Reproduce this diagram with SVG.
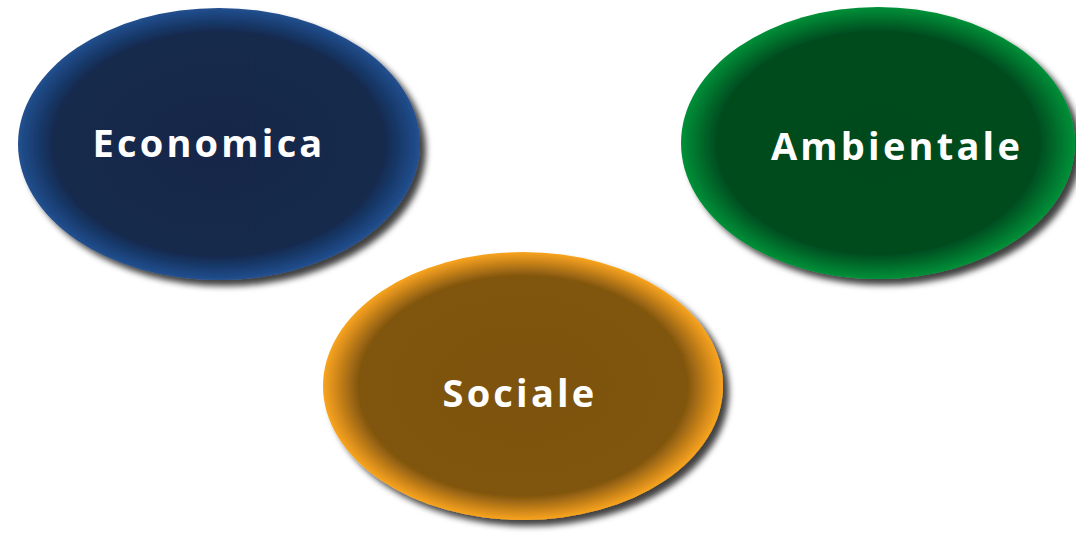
<svg xmlns="http://www.w3.org/2000/svg" width="1076" height="535" viewBox="0 0 1076 535">
<style>
.lbl{font-family:"Open Sans","DejaVu Sans",sans-serif;font-weight:700;font-size:38px;fill:#ffffff;text-anchor:middle;letter-spacing:3.2px}
</style>
<defs>
<filter id="sh" x="-10%" y="-10%" width="125%" height="125%">
<feDropShadow dx="6" dy="6" stdDeviation="3" flood-color="#000" flood-opacity="0.75"/>
</filter>
<radialGradient id="gBlue" cx="50%" cy="50%" r="50%">
<stop offset="0" stop-color="#13284a"/>
<stop offset="0.82" stop-color="#14294c"/>
<stop offset="0.94" stop-color="#1b427a"/>
<stop offset="1" stop-color="#22508f"/>
</radialGradient>
<radialGradient id="gGreen" cx="50%" cy="50%" r="50%">
<stop offset="0" stop-color="#004a1d"/>
<stop offset="0.82" stop-color="#004c1f"/>
<stop offset="0.94" stop-color="#007a30"/>
<stop offset="1" stop-color="#009038"/>
</radialGradient>
<radialGradient id="gOrange" cx="50%" cy="50%" r="50%">
<stop offset="0" stop-color="#7d520f"/>
<stop offset="0.82" stop-color="#80550f"/>
<stop offset="0.94" stop-color="#d48a1a"/>
<stop offset="1" stop-color="#f8a41f"/>
</radialGradient>
</defs>
<rect width="1076" height="535" fill="#ffffff"/>
<g id="connectors"></g>
<g id="economica">
<ellipse cx="219" cy="144" rx="201" ry="136" fill="url(#gBlue)" filter="url(#sh)"/>
<text class="lbl" x="209" y="157">Economica</text>
</g>
<g id="ambientale">
<ellipse cx="878" cy="143" rx="197" ry="136" fill="url(#gGreen)" filter="url(#sh)"/>
<text class="lbl" x="897" y="160">Ambientale</text>
</g>
<g id="sociale">
<ellipse cx="523" cy="386" rx="200" ry="134" fill="url(#gOrange)" filter="url(#sh)"/>
<text class="lbl" x="520" y="407">Sociale</text>
</g>
</svg>
